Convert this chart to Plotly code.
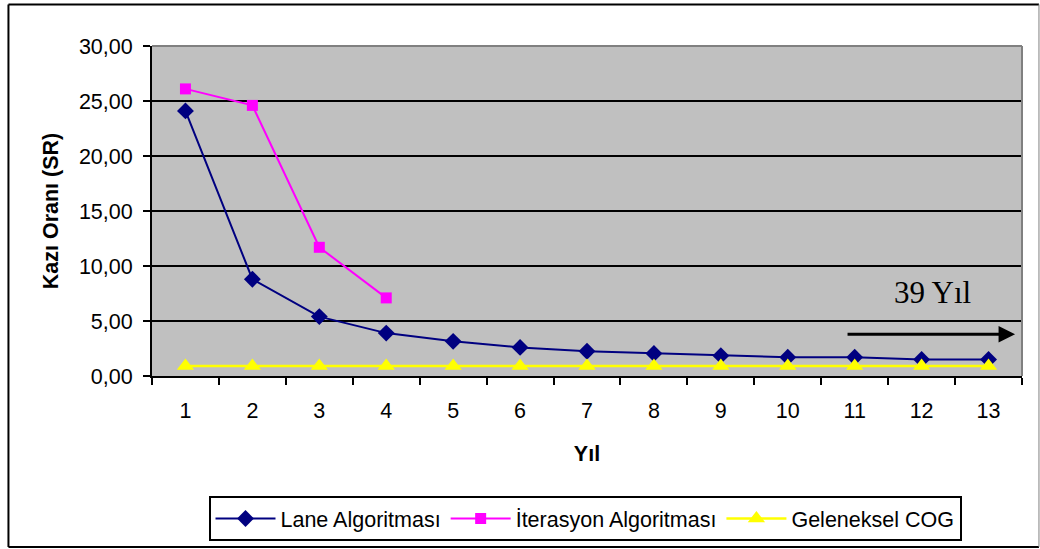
import plotly.graph_objects as go

# Years on the horizontal axis and stripping-ratio series
years = [str(i) for i in range(1, 14)]
lane = [24.1, 8.8, 5.4, 3.9, 3.15, 2.6, 2.25, 2.05, 1.85, 1.7, 1.7, 1.5, 1.5]
iterasyon = [26.1, 24.6, 11.7, 7.1]
geleneksel = [0.9] * 13

y_ticks = [0, 5, 10, 15, 20, 25, 30]
y_labels = ["0,00", "5,00", "10,00", "15,00", "20,00", "25,00", "30,00"]

FONT = "Liberation Sans, Arial, sans-serif"

fig = go.Figure()
fig.add_trace(go.Scatter(
    x=years, y=lane, name="Lane Algoritması", mode="lines+markers",
    line=dict(color="#000080", width=2),
    marker=dict(symbol="diamond", size=13, color="#000080"),
))
fig.add_trace(go.Scatter(
    x=years[:len(iterasyon)], y=iterasyon, name="İterasyon Algoritması",
    mode="lines+markers",
    line=dict(color="#FF00FF", width=2),
    marker=dict(symbol="square", size=11, color="#FF00FF"),
))
fig.add_trace(go.Scatter(
    x=years, y=geleneksel, name="Geleneksel COG", mode="lines+markers",
    line=dict(color="#FFFF00", width=2.5),
    marker=dict(symbol="triangle-up", size=15, color="#FFFF00"),
))

fig.update_layout(
    width=1040, height=549,
    margin=dict(l=152, r=18, t=46, b=173),
    paper_bgcolor="white",
    plot_bgcolor="#C0C0C0",
    font=dict(family=FONT, size=21, color="black"),
    showlegend=True,
    legend=dict(
        orientation="h",
        xref="container", yref="container",
        x=585 / 1040, xanchor="center",
        y=1 - 496 / 549, yanchor="top",
        bordercolor="black", borderwidth=2,
        bgcolor="white",
        font=dict(family=FONT, size=21.5),
        itemwidth=60,
        tracegroupgap=0,
    ),
)

fig.update_xaxes(
    type="category",
    range=[-0.5, 12.5],
    tickson="boundaries",
    ticks="outside", ticklen=7, tickwidth=2, tickcolor="black",
    showline=True, linecolor="black", linewidth=2,
    showgrid=False,
    ticklabelstandoff=14,
    tickfont=dict(family=FONT, size=21.5),
    title=dict(text="<b>Yıl</b>", font=dict(family=FONT, size=21.5), standoff=24),
)
fig.update_yaxes(
    range=[0, 30],
    tickvals=y_ticks, ticktext=y_labels,
    ticks="outside", ticklen=7, tickwidth=2, tickcolor="black",
    showline=True, linecolor="black", linewidth=2,
    showgrid=True, gridcolor="black", gridwidth=2,
    zeroline=False,
    ticklabelstandoff=6,
    tickfont=dict(family=FONT, size=21.5),
    title=dict(text="<b>Kazı Oranı (SR)</b>", font=dict(family=FONT, size=21.5), standoff=14),
)

# Grey frame on the top and right of the plot area
fig.add_shape(type="line", xref="paper", yref="paper", x0=0, x1=1, y0=1, y1=1,
              line=dict(color="#808080", width=2), layer="above")
fig.add_shape(type="line", xref="paper", yref="paper", x0=1, x1=1, y0=0, y1=1,
              line=dict(color="#808080", width=2), layer="above")

# Outer chart border
fig.add_shape(type="line", xref="paper", yref="paper", x0=-0.165, x1=-0.165,
              y0=-0.518, y1=1.126, line=dict(color="black", width=2))
fig.add_shape(type="line", xref="paper", yref="paper", x0=-0.165, x1=1.0195,
              y0=1.126, y1=1.126, line=dict(color="black", width=2))
fig.add_shape(type="line", xref="paper", yref="paper", x0=-0.165, x1=1.0195,
              y0=-0.518, y1=-0.518, line=dict(color="black", width=2))
fig.add_shape(type="line", xref="paper", yref="paper", x0=1.0195, x1=1.0195,
              y0=-0.518, y1=1.126, line=dict(color="#808080", width=1))

# "39 Yıl" note with arrow pointing beyond the last year
fig.add_annotation(
    xref="paper", yref="y", x=0.897, y=7.6, xanchor="center", yanchor="middle",
    text="39 Yıl", showarrow=False,
    font=dict(family="Liberation Serif, Times New Roman, serif", size=31, color="black"),
)
fig.add_annotation(
    xref="paper", yref="y", x=0.992, y=3.8,
    ax=-169, ay=0, axref="pixel", ayref="pixel",
    text="", showarrow=True,
    arrowhead=2, arrowsize=1.1, arrowwidth=3, arrowcolor="black",
)

fig.write_html("out.html")
